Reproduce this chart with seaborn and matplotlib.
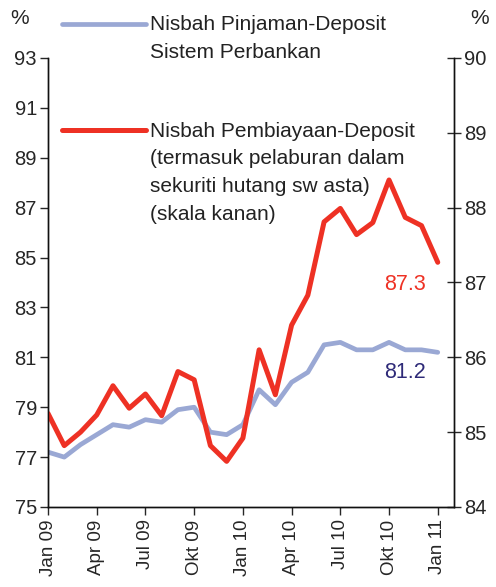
import numpy as np
import pandas as pd
import matplotlib
matplotlib.use("Agg")
import matplotlib.pyplot as plt
from matplotlib.lines import Line2D
import seaborn as sns

# Datos mensuales Jan 09 - Jan 11
meses = list(range(25))
etiquetas_x = ['Jan 09', 'Apr 09', 'Jul 09', 'Okt 09', 'Jan 10', 'Apr 10', 'Jul 10', 'Okt 10', 'Jan 11']
pos_x = [0, 3, 6, 9, 12, 15, 18, 21, 24]

# Nisbah Pinjaman-Deposit (skala kiri)
pinjaman = [77.2, 77.0, 77.5, 77.9, 78.3, 78.2, 78.5, 78.4, 78.9, 79.0, 78.0, 77.9,
            78.3, 79.7, 79.1, 80.0, 80.4, 81.5, 81.6, 81.3, 81.3, 81.6, 81.3, 81.3, 81.2]
# Nisbah Pembiayaan-Deposit (skala kanan)
pembiayaan = [85.25, 84.82, 85.0, 85.23, 85.62, 85.32, 85.51, 85.22, 85.81, 85.70, 84.82, 84.61,
              84.92, 86.10, 85.50, 86.43, 86.83, 87.81, 87.99, 87.64, 87.80, 88.37, 87.87, 87.76, 87.27]

df = pd.DataFrame({'mes': meses, 'pinjaman': pinjaman, 'pembiayaan': pembiayaan})

sns.set_style("white")
plt.rcParams['font.family'] = ['Liberation Sans', 'DejaVu Sans']

azul = '#9AA8D4'
rojo = '#EE3124'

fig = plt.figure(figsize=(4.96, 5.87), dpi=100)
ax = fig.add_axes([0.0968, 0.1363, 0.8185, 0.7649])
ax2 = ax.twinx()

sns.lineplot(data=df, x='mes', y='pinjaman', ax=ax, color=azul, linewidth=3.4)
sns.lineplot(data=df, x='mes', y='pembiayaan', ax=ax2, color=rojo, linewidth=3.6)

ax.set_xlim(0, 25)
ax.set_ylim(75, 93)
ax.set_yticks(np.arange(75, 94, 2))
ax2.set_ylim(84, 90)
ax2.set_yticks(np.arange(84, 91, 1))
ax.set_xticks(pos_x)
ax.set_xticklabels(etiquetas_x, rotation=90)

for a in (ax, ax2):
    a.set_xlabel('')
    a.set_ylabel('')
    a.spines['top'].set_visible(False)
    for s in a.spines.values():
        s.set_linewidth(1.0)
        s.set_color('#111111')

ax.tick_params(axis='y', direction='out', length=6, width=1, labelsize=14.5, pad=2, left=True)
ax.tick_params(axis='x', direction='out', length=6, width=1, labelsize=13.5, pad=3, bottom=True)
ax2.tick_params(axis='y', direction='inout', length=10, width=1, labelsize=14.5, pad=2, right=True)

# Etiquetas finales
ax2.text(22.0, 86.97, '87.3', color=rojo, fontsize=15.5, ha='center', va='center')
ax.text(22.0, 80.41, '81.2', color='#2E2A78', fontsize=15.5, ha='center', va='center')

# Simbolos de porcentaje
fig.text(20 / 496, 1 - 18 / 587, '%', fontsize=15, ha='center', va='center')
fig.text(480 / 496, 1 - 18 / 587, '%', fontsize=15, ha='center', va='center')

# Leyenda manual
W, H = 496, 587
fig.add_artist(Line2D([62 / W, 146 / W], [1 - 24 / H, 1 - 24 / H], color=azul, linewidth=3.4))
fig.text(150 / W, 1 - 24 / H, 'Nisbah Pinjaman-Deposit', fontsize=15, va='center', ha='left', color='#222222')
fig.text(150 / W, 1 - 52 / H, 'Sistem Perbankan', fontsize=15, va='center', ha='left', color='#222222')

fig.add_artist(Line2D([62 / W, 146 / W], [1 - 130 / H, 1 - 130 / H], color=rojo, linewidth=3.6))
lineas_rojo = ['Nisbah Pembiayaan-Deposit', '(termasuk pelaburan dalam',
               'sekuriti hutang sw asta)', '(skala kanan)']
for i, t in enumerate(lineas_rojo):
    fig.text(150 / W, 1 - (131 + 28 * i) / H, t, fontsize=15, va='center', ha='left', color='#222222')

fig.savefig('out.png', dpi=100)
